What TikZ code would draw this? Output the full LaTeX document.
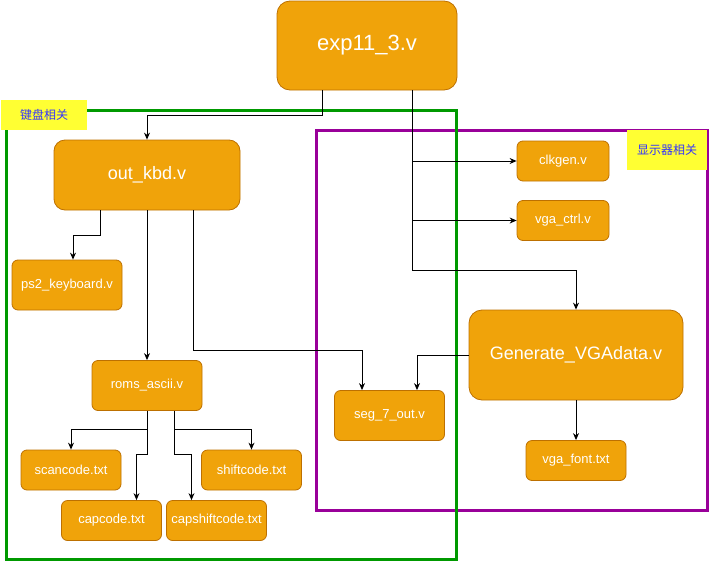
\documentclass[tikz,border=0pt]{standalone}
\usepackage{fontspec}
\setmainfont{Liberation Sans}
\newfontfamily\cjk{Noto Sans CJK SC}
\usetikzlibrary{arrows.meta}
\definecolor{modfill}{HTML}{F0A30A}
\definecolor{modline}{HTML}{BD7000}
\definecolor{tagfill}{HTML}{FFFF33}
\definecolor{tagtext}{HTML}{3333FF}
\definecolor{kbdgreen}{HTML}{009900}
\definecolor{vgapurple}{HTML}{990099}
\tikzset{
  mod/.style={draw=modline, fill=modfill, text=white, inner sep=0pt, line width=0.8pt},
  big/.style={mod, minimum width=180pt, minimum height=89pt, rounded corners=13pt, font=\fontsize{22}{26}\selectfont},
  mid/.style={mod, minimum height=70pt, rounded corners=11pt, font=\fontsize{18}{22}\selectfont},
  small/.style={mod, minimum width=100pt, minimum height=40pt, rounded corners=6pt, font=\fontsize{13}{15}\selectfont},
  tag/.style={fill=tagfill, text=tagtext, inner sep=0pt, font=\cjk\fontsize{12}{14}\selectfont},
  link/.style={->, line width=1pt},
}
\begin{document}
\begin{tikzpicture}[x=1pt, y=-1pt, >={Stealth[length=7pt, width=6pt]}]
  \useasboundingbox (0,0) rectangle (709,562);
  \draw[vgapurple, line width=3pt] (316.5,130.5) rectangle (707.5,510);
  \draw[kbdgreen, line width=3pt] (6.5,110.5) rectangle (456,559.5);
  \node[tag, minimum width=86pt, minimum height=30pt] (kbdtag) at (44,115) {键盘相关};
  \node[tag, minimum width=80pt, minimum height=40pt] (vgatag) at (667,150) {显示器相关};

  \node[big] (top) at (367,45.5) {exp11\_3.v};
  \node[mid, minimum width=186pt] (kbd) at (147,175) {out\_kbd.v};
  \node[mid, minimum width=214pt, minimum height=90pt, rounded corners=13pt] (gen) at (576,355) {Generate\_VGAdata.v};
  \node[small, minimum width=110pt, minimum height=50pt] (ps2) at (67,285) {ps2\_keyboard.v};
  \node[small, minimum width=92pt] (clk) at (563,161) {clkgen.v};
  \node[small, minimum width=92pt] (ctrl) at (563,220.5) {vga\_ctrl.v};
  \node[small, minimum width=110pt, minimum height=50pt] (roms) at (147,385.5) {roms\_ascii.v};
  \node[small] (scan) at (71,470) {scancode.txt};
  \node[small] (shift) at (251.5,470) {shiftcode.txt};
  \node[small] (cap) at (111.5,520.5) {capcode.txt};
  \node[small] (capshift) at (216.5,520.5) {capshiftcode.txt};
  \node[small, minimum width=110pt, minimum height=50pt] (seg) at (389.5,415.5) {seg\_7\_out.v};
  \node[small] (font) at (576,460.5) {vga\_font.txt};

  \draw[link] ([xshift=-45pt]top.south) -- ++(0,25) -| (kbd.north);
  \draw[link] ([xshift=45pt]top.south) |- (clk.west);
  \draw[link] ([xshift=45pt]top.south) |- (ctrl.west);
  \draw[link] ([xshift=45pt]top.south) -- ++(0,180) -| (gen.north);
  \draw[link] ([xshift=-46.5pt]kbd.south) -- ++(0,25) -| ([xshift=6pt]ps2.north);
  \draw[link] (kbd.south) -- (roms.north);
  \draw[link] ([xshift=46.5pt]kbd.south) -- ++(0,140) -| ([xshift=-27.5pt]seg.north);
  \draw[link] (gen.west) -| ([xshift=27.5pt]seg.north);
  \draw[link] (gen.south) -- (font.north);
  \draw[link] (roms.south) -- ++(0,19) -| (scan.north);
  \draw[link] (roms.south) -- ++(0,44) -| ([xshift=25pt]cap.north);
  \draw[link] ([xshift=27.5pt]roms.south) -- ++(0,44) -| ([xshift=-25pt]capshift.north);
  \draw[link] ([xshift=27.5pt]roms.south) -- ++(0,19) -| (shift.north);
\end{tikzpicture}
\end{document}
